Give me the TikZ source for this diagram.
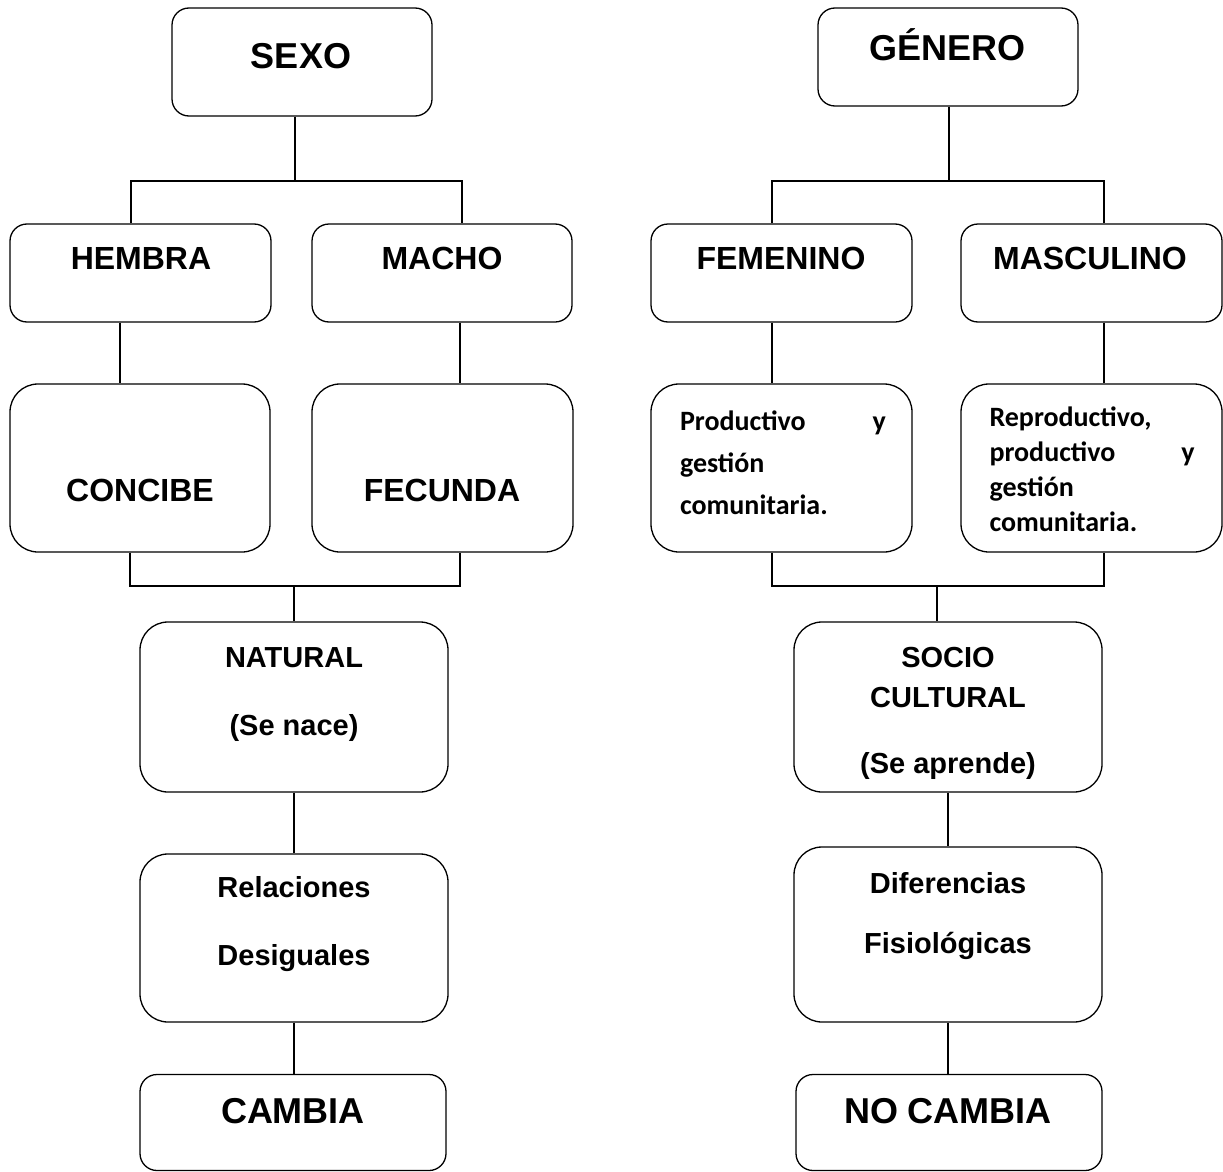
\documentclass[tikz,border=0pt]{standalone}
\usepackage{fontspec}
\setmainfont{Liberation Sans}
\newfontfamily\calibfont{Carlito}
\begin{document}
\begin{tikzpicture}[x=1pt, y=-1pt,
	caja/.style={draw, line width=1.3pt, rounded corners=17pt, inner sep=0pt},
	cajag/.style={caja, rounded corners=28pt},
	size/.style 2 args={minimum width=#1pt, minimum height=#2pt},
	lin/.style={line width=1.1pt},
	tbig/.style={inner sep=0pt, text height=26pt, text depth=0pt, font=\fontsize{36}{40}\selectfont\bfseries},
	tmid/.style={tbig, text height=23pt, font=\fontsize{32}{36}\selectfont\bfseries},
	tsml/.style={tbig, text height=21pt, font=\fontsize{29}{33}\selectfont\bfseries},
	tcal/.style={inner sep=0pt, align=left}]
	\useasboundingbox (0,0) rectangle (1223,1172);
	% cajas izquierda
	\node[caja, size={260}{108}] (sexo) at (302,62) {};
	\node[caja, size={261}{98}] (hembra) at (140.5,273) {};
	\node[caja, size={260}{98}] (macho) at (442,273) {};
	\node[cajag, size={260}{168}] (concibe) at (140,468) {};
	\node[cajag, size={261}{168}] (fecunda) at (442.5,468) {};
	\node[cajag, size={308}{170}] (natural) at (294,707) {};
	\node[cajag, size={308}{168}] (relaciones) at (294,938) {};
	\node[caja, size={306}{96}] (cambia) at (293,1122.5) {};
	% cajas derecha
	\node[caja, size={260}{98}] (genero) at (948,57) {};
	\node[caja, size={261}{98}] (femenino) at (781.5,273) {};
	\node[caja, size={261}{98}] (masculino) at (1091.5,273) {};
	\node[cajag, size={261}{168}] (productivo) at (781.5,468) {};
	\node[cajag, size={261}{168}] (reproductivo) at (1091.5,468) {};
	\node[cajag, size={308}{170}] (socio) at (948,707) {};
	\node[cajag, size={308}{175}] (diferencias) at (948,934.5) {};
	\node[caja, size={306}{96}] (nocambia) at (949,1122.5) {};
	% textos
	\node[tbig] (sexo-t) at (301,55) {SEXO};
	\node[tmid] (hembra-t) at (141,258) {HEMBRA};
	\node[tmid] (macho-t) at (442,258) {MACHO};
	\node[tmid] (concibe-t) at (140,490) {CONCIBE};
	\node[tmid] (fecunda-t) at (442,490) {FECUNDA};
	\node[tsml] (natural-t) at (294,657) {NATURAL};
	\node[tsml] (nace-t) at (294,725) {(Se nace)};
	\node[tsml] (relac-t) at (294,887) {Relaciones};
	\node[tsml] (desig-t) at (294,955) {Desiguales};
	\node[tbig] (cambia-t) at (293,1110) {CAMBIA};
	\node[tbig] (genero-t) at (947,47) {GÉNERO};
	\node[tmid] (femenino-t) at (781,258) {FEMENINO};
	\node[tmid] (masculino-t) at (1090,258) {MASCULINO};
	\node[tcal, text width=206pt, font=\calibfont\bfseries\fontsize{28}{42}\selectfont] (productivo-t) at (783,463) {Productivo\hfill y\\gestión\\comunitaria.};
	\node[tcal, text width=205pt, font=\calibfont\bfseries\fontsize{28}{35}\selectfont] (reproductivo-t) at (1092,469) {Reproductivo,\\productivo\hfill y\\gestión\\comunitaria.};
	\node[tsml] (socio-t) at (948,657) {SOCIO};
	\node[tsml] (cultural-t) at (948,697) {CULTURAL};
	\node[tsml] (aprende-t) at (948,763) {(Se aprende)};
	\node[tsml] (difer-t) at (948,883) {Diferencias};
	\node[tsml] (fisio-t) at (948,943) {Fisiológicas};
	\node[tbig] (nocambia-t) at (948,1110) {NO CAMBIA};
	% puntos de union
	\coordinate (sx-m) at (295,181);
	\coordinate (sx-l) at (131,181);
	\coordinate (sx-r) at (462,181);
	\coordinate (hc) at (120,0);
	\coordinate (mf) at (460,0);
	\coordinate (nb-l) at (130,586);
	\coordinate (nb-r) at (460,586);
	\coordinate (nb-m) at (294,586);
	\coordinate (gn-m) at (949,181);
	\coordinate (gn-l) at (772,181);
	\coordinate (gn-r) at (1104,181);
	\coordinate (sb-l) at (772,586);
	\coordinate (sb-r) at (1104,586);
	\coordinate (sb-m) at (937,586);
	% conectores
	\draw[lin] (sexo.south -| sx-m) -- (sx-m);
	\draw[lin] (hembra.north -| sx-l) -- (sx-l) -- (sx-r) -- (macho.north -| sx-r);
	\draw[lin] (hembra.south -| hc) -- (concibe.north -| hc);
	\draw[lin] (macho.south -| mf) -- (fecunda.north -| mf);
	\draw[lin] (concibe.south -| nb-l) -- (nb-l) -- (nb-r) -- (fecunda.south -| nb-r);
	\draw[lin] (nb-m) -- (natural.north -| nb-m);
	\draw[lin] (natural) -- (relaciones);
	\draw[lin] (relaciones.south) -- (cambia.north -| relaciones.south);
	\draw[lin] (genero.south -| gn-m) -- (gn-m);
	\draw[lin] (femenino.north -| gn-l) -- (gn-l) -- (gn-r) -- (masculino.north -| gn-r);
	\draw[lin] (femenino.south -| gn-l) -- (productivo.north -| gn-l);
	\draw[lin] (masculino.south -| gn-r) -- (reproductivo.north -| gn-r);
	\draw[lin] (productivo.south -| sb-l) -- (sb-l) -- (sb-r) -- (reproductivo.south -| sb-r);
	\draw[lin] (sb-m) -- (socio.north -| sb-m);
	\draw[lin] (socio) -- (diferencias);
	\draw[lin] (diferencias.south) -- (nocambia.north -| diferencias.south);
\end{tikzpicture}
\end{document}
